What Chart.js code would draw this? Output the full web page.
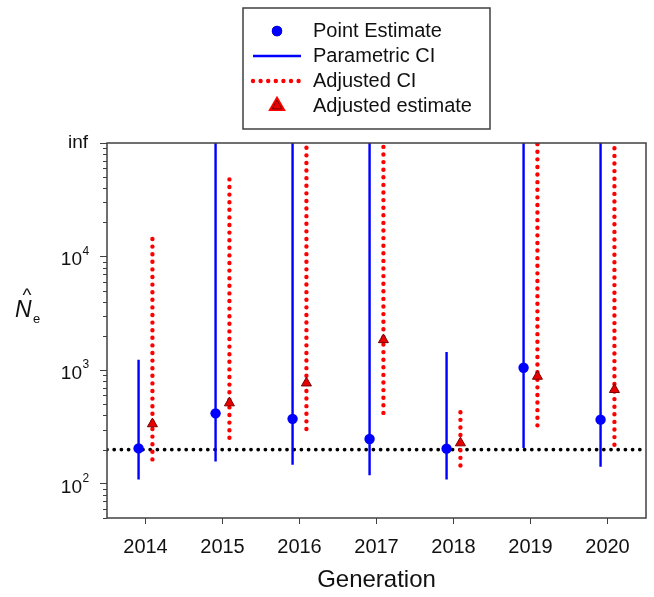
<!DOCTYPE html>
<html>
<head>
<meta charset="utf-8">
<title>Ne estimates by generation</title>
<script src="https://cdn.jsdelivr.net/npm/chart.js@4"></script>
<style>
  html, body { margin: 0; padding: 0; background: #fff; }
  #wrap { width: 654px; height: 597px; position: relative; }
</style>
</head>
<body>
<div id="wrap"><canvas id="neChart"></canvas></div>
<script>
// Generations and estimates
const years = [2014, 2015, 2016, 2017, 2018, 2019, 2020];
const INF = 100000; // unbounded upper limits are drawn at the "inf" line
const pointEstimate = [205, 417, 373, 248, 204, 1050, 367];
const paramLower = [109, 157, 147, 119, 109, 207, 141];
const paramUpper = [1236, INF, INF, INF, 1445, INF, INF];
const adjEstimate = [337, 515, 771, 1854, 229, 883, 675];
const adjLower = [164, 254, 304, 421, 145, 327, 221];
const adjUpper = [15000, 50000, INF, INF, 443, INF, INF];
const threshold = 200;

// y axis ticks (log scale), labelled ones are the powers of ten and "inf"
const yTicks = [50, 60, 70, 80, 90,
  100, 200, 300, 400, 500, 600, 700, 800, 900,
  1000, 2000, 3000, 4000, 5000, 6000, 7000, 8000, 9000,
  10000, 20000, 30000, 40000, 50000, 60000, 70000, 80000, 90000, INF];
const yLabels = { 100: '2', 1000: '3', 10000: '4' };

const FONT = "'Liberation Sans', Arial, sans-serif";
const AXIS_COLOR = '#404040';
const OFFSET = 0.09; // side-by-side shift of the two estimates

const ciSegments = (lo, hi, dx) =>
  years.flatMap((yr, i) => [
    { x: yr + dx, y: lo[i] },
    { x: yr + dx, y: hi[i] },
    { x: yr + dx, y: null }
  ]);

// frame, minor ticks, y labels, y title and the boxed legend
const decorations = {
  id: 'decorations',
  afterDraw(chart) {
    const { ctx, chartArea: a, scales: { y } } = chart;
    ctx.save();

    ctx.strokeStyle = AXIS_COLOR;
    ctx.lineWidth = 1.5;
    ctx.strokeRect(a.left, a.top, a.right - a.left, a.bottom - a.top);

    ctx.lineWidth = 1;
    ctx.beginPath();
    yTicks.forEach(v => {
      if (yLabels[v] || v === INF) return;
      const py = Math.round(y.getPixelForValue(v)) + 0.5;
      ctx.moveTo(a.left - 4, py);
      ctx.lineTo(a.left, py);
    });
    ctx.stroke();

    ctx.fillStyle = '#111';
    Object.keys(yLabels).forEach(k => {
      const py = y.getPixelForValue(Number(k));
      ctx.textAlign = 'right';
      ctx.textBaseline = 'alphabetic';
      ctx.font = '19px ' + FONT;
      ctx.fillText('10', a.left - 25, py + 8.8);
      ctx.textAlign = 'left';
      ctx.font = '12px ' + FONT;
      ctx.fillText(yLabels[k], a.left - 24.5, py - 2);
    });
    ctx.textAlign = 'right';
    ctx.font = '19px ' + FONT;
    ctx.fillText('inf', a.left - 19, y.getPixelForValue(INF) + 5);

    // N-hat with subscript e
    ctx.textAlign = 'left';
    ctx.font = 'italic 23px ' + FONT;
    ctx.fillText('N', 15, 317);
    ctx.font = '13px ' + FONT;
    ctx.fillText('e', 33, 323);
    ctx.textAlign = 'center';
    ctx.font = '19px ' + FONT;
    ctx.fillText('^', 27, 300.5);

    // legend
    const lx = 243, ly = 8, lw = 247, lh = 121;
    ctx.strokeStyle = AXIS_COLOR;
    ctx.lineWidth = 1.5;
    ctx.strokeRect(lx, ly, lw, lh);
    const symX = 277, textX = 313;
    const rows = [31, 56, 81, 106];
    const order = ['Point Estimate', 'Parametric CI', 'Adjusted CI', 'Adjusted estimate'];
    order.forEach((label, i) => {
      const ds = chart.data.datasets.find(d => d.label === label);
      const ry = rows[i];
      if (ds.showLine) {
        ctx.beginPath();
        ctx.strokeStyle = ds.borderColor;
        ctx.lineWidth = ds.borderWidth;
        ctx.lineCap = ds.borderCapStyle || 'butt';
        ctx.setLineDash(ds.borderDash || []);
        ctx.moveTo(symX - 24, ry);
        ctx.lineTo(symX + 24, ry);
        ctx.stroke();
        ctx.setLineDash([]);
        ctx.lineCap = 'butt';
      } else {
        Chart.helpers.drawPoint(ctx, {
          pointStyle: ds.pointStyle,
          radius: ds.pointRadius,
          borderWidth: ds.pointBorderWidth,
          rotation: 0
        }, symX, ry);
        ctx.fillStyle = ds.pointBackgroundColor;
        ctx.strokeStyle = ds.pointBorderColor;
        ctx.lineWidth = ds.pointBorderWidth;
        ctx.fill();
        if (ds.pointBorderWidth) ctx.stroke();
      }
      ctx.fillStyle = '#111';
      ctx.font = '20px ' + FONT;
      ctx.textAlign = 'left';
      ctx.textBaseline = 'middle';
      ctx.fillText(label, textX, ry);
    });

    ctx.restore();
  }
};

const ctx = document.getElementById('neChart').getContext('2d');

new Chart(ctx, {
  type: 'scatter',
  data: {
    datasets: [
      {
        label: 'Point Estimate',
        data: years.map((yr, i) => ({ x: yr - OFFSET, y: pointEstimate[i] })),
        showLine: false,
        pointStyle: 'circle',
        pointRadius: 5.2,
        pointBackgroundColor: '#0000ff',
        pointBorderColor: '#0000ff',
        pointBorderWidth: 0
      },
      {
        label: 'Adjusted estimate',
        data: years.map((yr, i) => ({ x: yr + OFFSET, y: adjEstimate[i] })),
        showLine: false,
        pointStyle: 'triangle',
        pointRadius: 5.8,
        pointBackgroundColor: '#e60000',
        pointBorderColor: '#7a0000',
        pointBorderWidth: 1
      },
      {
        label: 'Parametric CI',
        data: ciSegments(paramLower, paramUpper, -OFFSET),
        showLine: true,
        spanGaps: false,
        borderColor: '#0000ff',
        borderWidth: 2.4,
        pointRadius: 0
      },
      {
        label: 'Adjusted CI',
        data: ciSegments(adjLower, adjUpper, OFFSET),
        showLine: true,
        spanGaps: false,
        borderColor: '#ff0000',
        borderWidth: 4.4,
        borderCapStyle: 'round',
        borderDash: [0, 7.6],
        pointRadius: 0
      },
      {
        label: 'threshold',
        data: [{ x: 2013.5, y: threshold }, { x: 2020.5, y: threshold }],
        showLine: true,
        borderColor: '#000',
        borderWidth: 3.8,
        borderCapStyle: 'round',
        borderDash: [0, 7.2],
        pointRadius: 0
      }
    ]
  },
  options: {
    responsive: true,
    maintainAspectRatio: false,
    animation: false,
    layout: { padding: { top: 143, right: 8, left: 0, bottom: 0 } },
    scales: {
      x: {
        type: 'linear',
        min: 2013.5,
        max: 2020.5,
        afterBuildTicks: scale => { scale.ticks = years.map(v => ({ value: v })); },
        afterFit: scale => { scale.height = 79; },
        border: { display: false },
        grid: {
          drawOnChartArea: false,
          drawTicks: true,
          tickLength: 6,
          tickColor: AXIS_COLOR,
          tickWidth: 1
        },
        ticks: {
          padding: 11,
          color: '#111',
          font: { family: FONT, size: 20 },
          callback: v => String(v)
        },
        title: {
          display: true,
          text: 'Generation',
          color: '#111',
          font: { family: FONT, size: 24 },
          padding: { top: 0, bottom: 2 }
        }
      },
      y: {
        type: 'logarithmic',
        min: 50,
        max: INF,
        afterBuildTicks: scale => { scale.ticks = yTicks.map(v => ({ value: v })); },
        afterFit: scale => { scale.width = 107; },
        border: { display: false },
        grid: {
          drawOnChartArea: false,
          drawTicks: true,
          tickLength: 7,
          tickWidth: 1,
          tickColor: c => (yLabels[c.tick.value] || c.tick.value === INF) ? AXIS_COLOR : 'rgba(0,0,0,0)'
        },
        ticks: { display: false }
      }
    },
    plugins: {
      legend: { display: false },
      tooltip: { enabled: false }
    }
  },
  plugins: [decorations]
});
</script>
</body>
</html>
